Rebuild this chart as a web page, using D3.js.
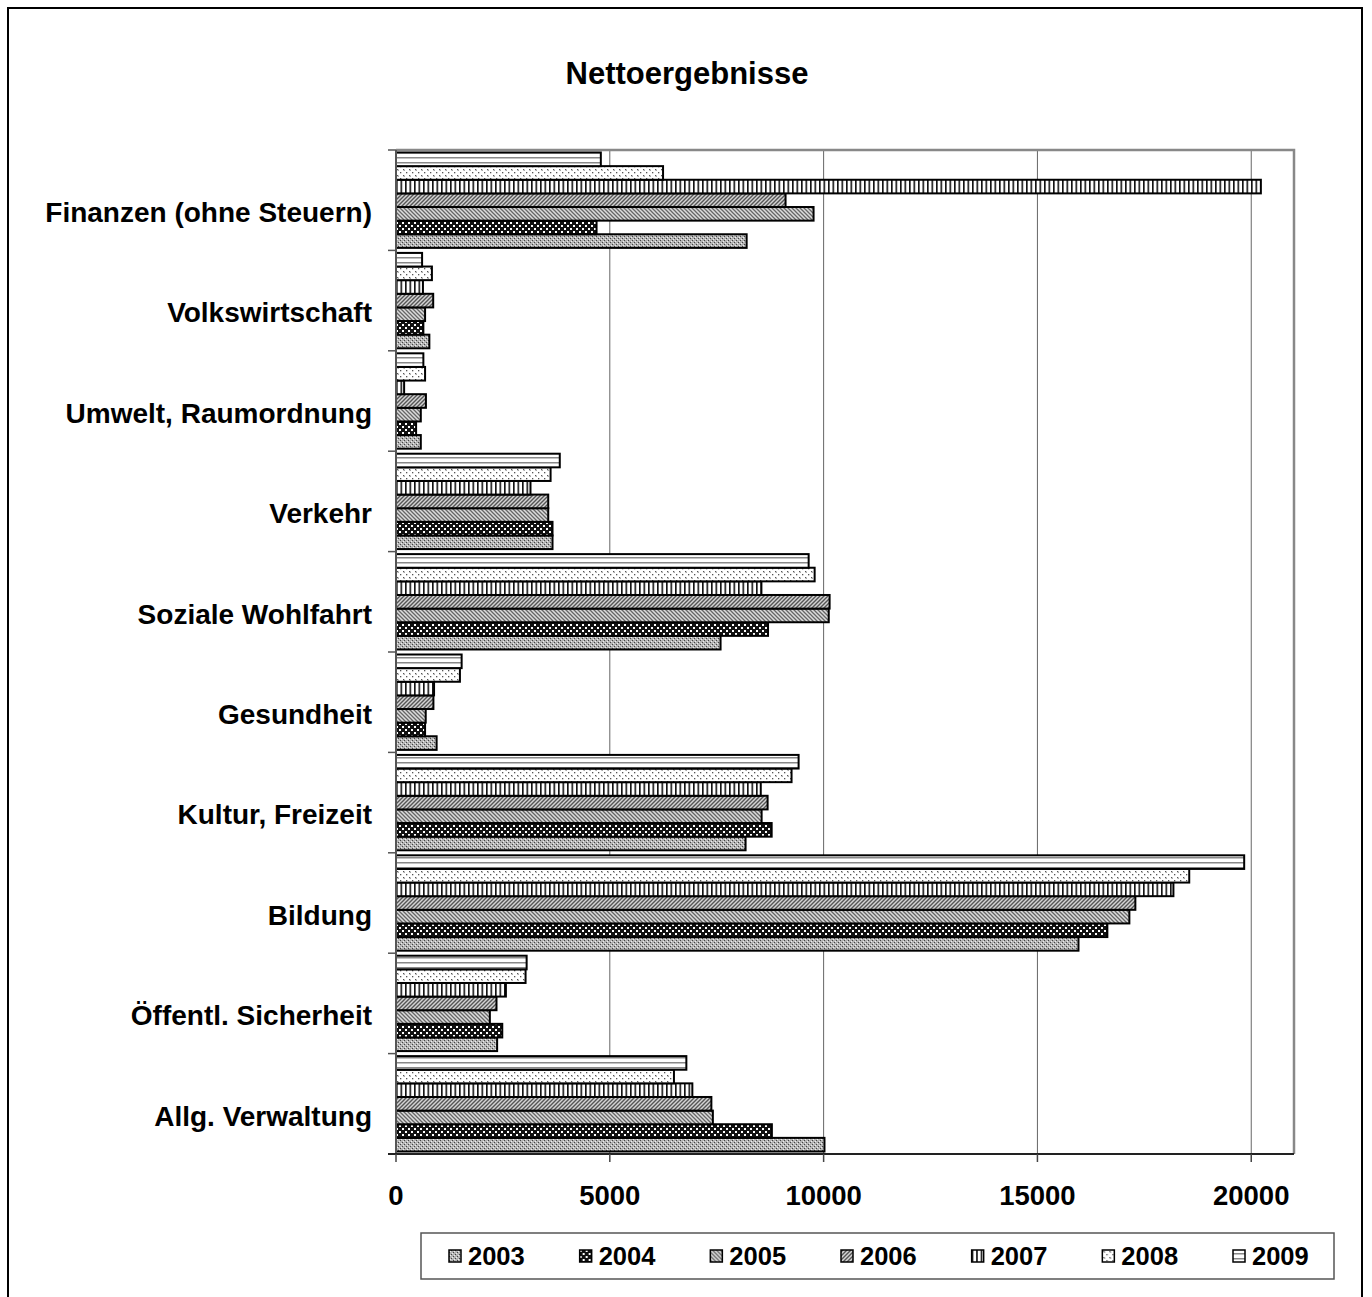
<!DOCTYPE html>
<html>
<head>
<meta charset="utf-8">
<script src="https://cdn.jsdelivr.net/npm/d3@7"></script>
<style>
  body { margin: 0; background: #fff; }
  svg { font-family: "Liberation Sans", Arial, sans-serif; font-weight: bold; }
</style>
</head>
<body>
<div id="chart"></div>
<script>
"use strict";
// categories top to bottom, as shown
const categories = [
    "Finanzen (ohne Steuern)", "Volkswirtschaft", "Umwelt, Raumordnung", "Verkehr",
    "Soziale Wohlfahrt", "Gesundheit", "Kultur, Freizeit", "Bildung",
    "Öffentl. Sicherheit", "Allg. Verwaltung"
];
const years = ["2003", "2004", "2005", "2006", "2007", "2008", "2009"];
const v2003 = [8200, 780, 580, 3660, 7590, 950, 8175, 15960, 2365, 10020];
const v2004 = [4690, 640, 470, 3660, 8700, 680, 8785, 16635, 2485, 8790];
const v2005 = [9765, 680, 580, 3560, 10120, 695, 8550, 17150, 2195, 7410];
const v2006 = [9110, 870, 700, 3560, 10140, 875, 8690, 17290, 2350, 7375];
const v2007 = [20225, 630, 190, 3145, 8545, 890, 8530, 18180, 2570, 6930];
const v2008 = [6245, 840, 680, 3615, 9790, 1495, 9250, 18550, 3030, 6500];
const v2009 = [4790, 610, 640, 3830, 9650, 1535, 9415, 19835, 3055, 6790];
const xTicks = [0, 5000, 10000, 15000, 20000];

const seriesValues = [v2003, v2004, v2005, v2006, v2007, v2008, v2009];

const W = 1372, H = 1297;
const plot = {left: 396, right: 1294, top: 150, bottom: 1154}; // px

const svg = d3.select("#chart").append("svg")
    .attr("width", W).attr("height", H);

// hatch patterns, one per year
const defs = svg.append("defs");
function pattern(id, w, h, draw) {
    const p = defs.append("pattern")
        .attr("id", id)
        .attr("patternUnits", "userSpaceOnUse")
        .attr("width", w).attr("height", h);
    draw(p);
}
function dot(p, x, y, s, c) {
    p.append("rect").attr("x", x).attr("y", y).attr("width", s).attr("height", s).attr("fill", c);
}
pattern("p2003", 4, 4, p => {
    p.append("rect").attr("width", 4).attr("height", 4).attr("fill", "#b4b4b4");
    dot(p, 0, 0, 1, "#444");
    dot(p, 2, 2, 1, "#444");
    dot(p, 1, 3, 1, "#eee");
    dot(p, 3, 1, 1, "#eee");
});
pattern("p2004", 6, 6, p => {
    p.append("rect").attr("width", 6).attr("height", 6).attr("fill", "#111");
    dot(p, 0, 0, 2, "#fff");
    dot(p, 3, 3, 2, "#fff");
});
pattern("p2005", 4, 4, p => {
    p.append("rect").attr("width", 4).attr("height", 4).attr("fill", "#dcdcdc");
    p.append("path").attr("d", "M-1,-1L5,5M-1,3L1,5M3,-1L5,1")
        .attr("stroke", "#666").attr("stroke-width", 1.3);
});
pattern("p2006", 4, 4, p => {
    p.append("rect").attr("width", 4).attr("height", 4).attr("fill", "#d4d4d4");
    p.append("path").attr("d", "M-1,5L5,-1M-1,1L1,-1M3,5L5,3")
        .attr("stroke", "#555").attr("stroke-width", 1.4);
});
pattern("p2007", 4.5, 4, p => {
    p.append("rect").attr("width", 4.5).attr("height", 4).attr("fill", "#fff");
    p.append("rect").attr("x", 0).attr("width", 1.6).attr("height", 4).attr("fill", "#111");
});
pattern("p2008", 6, 6, p => {
    p.append("rect").attr("width", 6).attr("height", 6).attr("fill", "#fff");
    dot(p, 1, 1, 1.3, "#555");
    dot(p, 4, 4, 1.3, "#555");
    dot(p, 2, 2, 1, "#aaa");
});
pattern("p2009", 6, 5, p => {
    p.append("rect").attr("width", 6).attr("height", 5).attr("fill", "#fff");
    p.append("rect").attr("y", 2).attr("width", 6).attr("height", 1.5).attr("fill", "#888");
});

// outer frame
svg.append("rect")
    .attr("x", 8).attr("y", 8)
    .attr("width", 1354).attr("height", 1310)
    .attr("fill", "none").attr("stroke", "#000").attr("stroke-width", 2);

// title
svg.append("text")
    .attr("x", 687).attr("y", 84)
    .attr("text-anchor", "middle")
    .style("font-size", "31px")
    .text("Nettoergebnisse");

const x = d3.scaleLinear().domain([0, 21000]).range([plot.left, plot.right]);
const y0 = d3.scaleBand().domain(categories).range([plot.top, plot.bottom]);
const gap = y0.bandwidth() * 0.025;
const y1 = d3.scaleBand().domain(years.slice().reverse())
    .range([gap, y0.bandwidth() - gap]);

// gridlines
svg.append("g").selectAll("line")
    .data(xTicks.filter(d => d > 0))
    .join("line")
    .attr("x1", d => x(d)).attr("x2", d => x(d))
    .attr("y1", plot.top).attr("y2", plot.bottom)
    .attr("stroke", "#666").attr("stroke-width", 1);

// plot frame top + right
svg.append("path")
    .attr("d", `M${plot.left},${plot.top}H${plot.right}V${plot.bottom}`)
    .attr("fill", "none").attr("stroke", "#888").attr("stroke-width", 2.5);

// bars
const rows = [];
categories.forEach((c, ci) => {
    years.forEach((yr, yi) => rows.push({cat: c, year: yr, value: seriesValues[yi][ci]}));
});
svg.append("g").selectAll("rect")
    .data(rows)
    .join("rect")
    .attr("x", x(0))
    .attr("y", d => y0(d.cat) + y1(d.year))
    .attr("width", d => x(d.value) - x(0))
    .attr("height", y1.bandwidth())
    .attr("fill", d => `url(#p${d.year})`)
    .attr("stroke", "#000")
    .attr("stroke-width", 2);

// y axis: line + ticks at band boundaries
const yAxis = svg.append("g");
yAxis.append("line")
    .attr("x1", plot.left).attr("x2", plot.left)
    .attr("y1", plot.top).attr("y2", plot.bottom)
    .attr("stroke", "#555").attr("stroke-width", 2);
const bounds = categories.map(c => y0(c)).concat([plot.bottom]);
yAxis.selectAll("line.tick")
    .data(bounds)
    .join("line")
    .attr("class", "tick")
    .attr("x1", plot.left - 8).attr("x2", plot.left)
    .attr("y1", d => d).attr("y2", d => d)
    .attr("stroke", "#555").attr("stroke-width", 1.5);
yAxis.selectAll("text")
    .data(categories)
    .join("text")
    .attr("x", 372)
    .attr("y", d => y0(d) + y0.bandwidth() / 2 + 12)
    .attr("dy", "0.35em")
    .attr("text-anchor", "end")
    .style("font-size", "28px")
    .text(d => d);

// x axis
const xAxis = svg.append("g");
xAxis.append("line")
    .attr("x1", plot.left - 8).attr("x2", plot.right)
    .attr("y1", plot.bottom).attr("y2", plot.bottom)
    .attr("stroke", "#222").attr("stroke-width", 2);
xAxis.selectAll("line.tick")
    .data(xTicks)
    .join("line")
    .attr("class", "tick")
    .attr("x1", d => x(d)).attr("x2", d => x(d))
    .attr("y1", plot.bottom).attr("y2", plot.bottom + 8)
    .attr("stroke", "#444").attr("stroke-width", 1.5);
xAxis.selectAll("text")
    .data(xTicks)
    .join("text")
    .attr("x", d => x(d))
    .attr("y", 1205)
    .attr("text-anchor", "middle")
    .style("font-size", "27.5px")
    .text(d => d);

// legend
const legend = svg.append("g");
legend.append("rect")
    .attr("x", 421).attr("y", 1233)
    .attr("width", 913).attr("height", 46)
    .attr("fill", "#fff").attr("stroke", "#555").attr("stroke-width", 1.5);
const lx = d3.scalePoint().domain(years).range([449, 1233]);
const item = legend.selectAll("g")
    .data(years)
    .join("g")
    .attr("transform", d => `translate(${lx(d)},1256)`);
item.append("rect")
    .attr("x", 0).attr("y", -6)
    .attr("width", 12).attr("height", 12)
    .attr("fill", d => `url(#p${d})`)
    .attr("stroke", "#000").attr("stroke-width", 1.5);
item.append("text")
    .attr("x", 19).attr("dy", "0.36em")
    .style("font-size", "25.5px")
    .text(d => d);
</script>
</body>
</html>
